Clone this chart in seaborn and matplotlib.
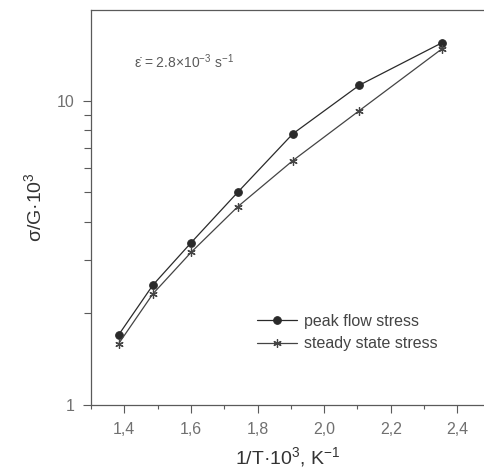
import numpy as np
import pandas as pd
import matplotlib
matplotlib.use('Agg')
import matplotlib.pyplot as plt
import seaborn as sns
from matplotlib.ticker import FixedLocator, FuncFormatter, LogLocator, NullFormatter

inv_T = [1.383, 1.486, 1.601, 1.741, 1.906, 2.106, 2.353]
peak_stress = [1.70, 2.48, 3.42, 5.01, 7.79, 11.26, 15.5]
steady_stress = [1.59, 2.32, 3.18, 4.49, 6.36, 9.29, 14.8]
x_ticks = [1.4, 1.6, 1.8, 2.0, 2.2, 2.4]
y_ticks = [1, 10]

sns.set_style('ticks')
plt.rcParams['font.family'] = ['Liberation Sans', 'DejaVu Sans']
plt.rcParams['mathtext.fontset'] = 'custom'
plt.rcParams['mathtext.rm'] = 'Liberation Sans'
plt.rcParams['mathtext.it'] = 'Liberation Sans'
grey = '#5a5a5a'

fig = plt.figure(figsize=(4.85, 4.72), dpi=100)
ax = fig.add_axes([0.1876, 0.142, 0.8124, 0.837])

sns.lineplot(x=inv_T, y=peak_stress, marker='o', color='#2a2a2a', linewidth=0.9,
             markersize=5.5, markeredgecolor='#2a2a2a', label='peak flow stress', ax=ax)
sns.lineplot(x=inv_T, y=steady_stress, marker=(6, 2, 0), color='#444444', linewidth=0.9,
             markersize=6, markeredgewidth=0.9, markeredgecolor='#444444',
             label='steady state stress', ax=ax)

ax.set_yscale('log')
ax.set_xlim(1.3, 2.483)
ax.set_ylim(1, 19.9)

ax.xaxis.set_major_locator(FixedLocator(x_ticks))
ax.xaxis.set_minor_locator(FixedLocator(np.arange(1.3, 2.5, 0.2)))
ax.xaxis.set_major_formatter(FuncFormatter(lambda v, p: f'{v:.1f}'.replace('.', ',')))
ax.yaxis.set_major_locator(FixedLocator(y_ticks))
ax.yaxis.set_major_formatter(FuncFormatter(lambda v, p: f'{v:g}'))
ax.yaxis.set_minor_locator(LogLocator(base=10, subs=np.arange(2, 10)))
ax.yaxis.set_minor_formatter(NullFormatter())

ax.tick_params(which='major', direction='out', length=6, width=0.8, colors=grey, labelsize=11.5, pad=6)
ax.tick_params(which='minor', direction='out', length=3, width=0.8, colors=grey)
ax.tick_params(axis='y', which='minor', length=5)
ax.tick_params(labelcolor='#707070')

for side in ['left', 'bottom', 'top']:
    ax.spines[side].set_color(grey)
    ax.spines[side].set_linewidth(0.9)
ax.spines['right'].set_visible(False)

ax.set_xlabel('1/T·10$^3$, K$^{-1}$', fontsize=14, color='#333333', labelpad=6)
ax.set_ylabel('σ/G·10$^3$', fontsize=14, color='#333333', labelpad=8)

ax.text(1.43, 13.4, 'ε̇ = 2.8×10$^{-3}$ s$^{-1}$', fontsize=10, color=grey, va='center')

leg = ax.legend(loc='lower right', bbox_to_anchor=(0.915, 0.1), frameon=False,
                fontsize=11.5, handlelength=2.5, handletextpad=0.4, labelspacing=0.45)
for t in leg.get_texts():
    t.set_color('#444444')

fig.savefig('out.png', dpi=100)
